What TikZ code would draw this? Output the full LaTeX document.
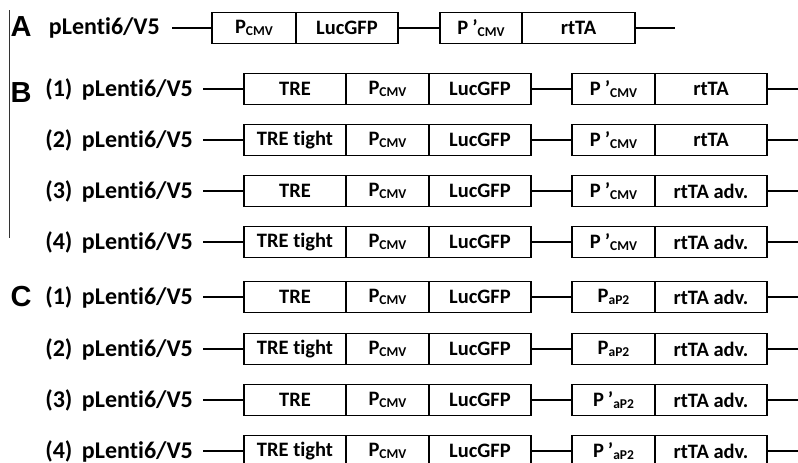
\documentclass[tikz,border=0pt]{standalone}
\usepackage{fontspec}
\setmainfont[Ligatures=NoCommon]{Carlito}
\newfontfamily\tagfont{Liberation Sans}
\usetikzlibrary{positioning}
\newcommand{\sub}[1]{\raisebox{-0.28ex}{\fontsize{13.5}{12}\selectfont\bfseries #1}}
\newcommand{\pcmv}{P\sub{CMV}}
\newcommand{\ppcmv}{P\hspace{0.2em}’\sub{CMV}}
\newcommand{\pap}{P\sub{aP2}}
\newcommand{\ppap}{P\hspace{0.2em}’\sub{aP2}}
\newcommand{\vname}[1]{(#1)\hspace{0.4em}pLenti6/V5}
\tikzset{
  % box segments of a cassette
  seg/.style={draw,line width=1.5pt,minimum height=31pt,inner sep=0pt,outer sep=0pt,anchor=west,font=\fontsize{20.5}{21}\selectfont\bfseries},
  lab/.style={anchor=east,inner sep=0pt,font=\fontsize{24}{24}\selectfont\bfseries},
  tag/.style={inner sep=0pt,font=\tagfont\fontsize{29}{29}\selectfont\bfseries},
  link/.style={line width=1.4pt}
}
\begin{document}
\begin{tikzpicture}[x=1pt,y=-1pt]
  \useasboundingbox (0,0) rectangle (798,463);
  \coordinate (barT) at (9.5,10);
  \coordinate (barB) at (9.5,238);
  \draw[line width=1pt,black!80] (barT) -- (barB);
  % A
  \node[tag] (tagA) at (21,27) {A};
  \node[lab] (labA) at (160,28) {pLenti6/V5};
  \node[seg,minimum width=84pt] (cmvA) at (212,28) {\pcmv};
  \node[seg,minimum width=102pt] (lucA) at (cmvA.east) {LucGFP};
  \node[seg,minimum width=82pt] (prA) at (440,28) {\ppcmv};
  \node[seg,minimum width=113pt] (rtA) at (prA.east) {rtTA};
  \coordinate (endA) at (675,28);
  \draw[link] ([xshift=12pt]labA.east) -- (cmvA.west);
  \draw[link] (lucA) -- (prA); \draw[link] (rtA) -- (endA);
  % B (1)
  \node[tag] (tagB) at (21,93) {B};
  \node[lab] (labB1) at (193,89) {\vname{1}};
  \node[seg,minimum width=102pt] (treB1) at (244,89) {TRE};
  \node[seg,minimum width=83pt] (cmvB1) at (treB1.east) {\pcmv};
  \node[seg,minimum width=102pt] (lucB1) at (cmvB1.east) {LucGFP};
  \node[seg,minimum width=83pt] (prB1) at (572,89) {\ppcmv};
  \node[seg,minimum width=112pt] (rtB1) at (prB1.east) {rtTA};
  \coordinate (endB1) at (800,89);
  \draw[link] ([xshift=10pt]labB1.east) -- (treB1.west);
  \draw[link] (lucB1) -- (prB1); \draw[link] (rtB1) -- (endB1);
  % B (2)
  \node[lab] (labB2) at (193,140) {\vname{2}};
  \node[seg,minimum width=102pt] (treB2) at (244,140) {TRE tight};
  \node[seg,minimum width=83pt] (cmvB2) at (treB2.east) {\pcmv};
  \node[seg,minimum width=102pt] (lucB2) at (cmvB2.east) {LucGFP};
  \node[seg,minimum width=83pt] (prB2) at (572,140) {\ppcmv};
  \node[seg,minimum width=112pt] (rtB2) at (prB2.east) {rtTA};
  \coordinate (endB2) at (800,140);
  \draw[link] ([xshift=10pt]labB2.east) -- (treB2.west);
  \draw[link] (lucB2) -- (prB2); \draw[link] (rtB2) -- (endB2);
  % B (3)
  \node[lab] (labB3) at (193,191) {\vname{3}};
  \node[seg,minimum width=102pt] (treB3) at (244,191) {TRE};
  \node[seg,minimum width=83pt] (cmvB3) at (treB3.east) {\pcmv};
  \node[seg,minimum width=102pt] (lucB3) at (cmvB3.east) {LucGFP};
  \node[seg,minimum width=83pt] (prB3) at (572,191) {\ppcmv};
  \node[seg,minimum width=112pt] (rtB3) at (prB3.east) {rtTA adv.};
  \coordinate (endB3) at (800,191);
  \draw[link] ([xshift=10pt]labB3.east) -- (treB3.west);
  \draw[link] (lucB3) -- (prB3); \draw[link] (rtB3) -- (endB3);
  % B (4)
  \node[lab] (labB4) at (193,242) {\vname{4}};
  \node[seg,minimum width=102pt] (treB4) at (244,242) {TRE tight};
  \node[seg,minimum width=83pt] (cmvB4) at (treB4.east) {\pcmv};
  \node[seg,minimum width=102pt] (lucB4) at (cmvB4.east) {LucGFP};
  \node[seg,minimum width=83pt] (prB4) at (572,242) {\ppcmv};
  \node[seg,minimum width=112pt] (rtB4) at (prB4.east) {rtTA adv.};
  \coordinate (endB4) at (800,242);
  \draw[link] ([xshift=10pt]labB4.east) -- (treB4.west);
  \draw[link] (lucB4) -- (prB4); \draw[link] (rtB4) -- (endB4);
  % C (1)
  \node[tag] (tagC) at (21,297) {C};
  \node[lab] (labC1) at (193,297) {\vname{1}};
  \node[seg,minimum width=102pt] (treC1) at (244,297) {TRE};
  \node[seg,minimum width=83pt] (cmvC1) at (treC1.east) {\pcmv};
  \node[seg,minimum width=102pt] (lucC1) at (cmvC1.east) {LucGFP};
  \node[seg,minimum width=83pt] (prC1) at (572,297) {\pap};
  \node[seg,minimum width=112pt] (rtC1) at (prC1.east) {rtTA adv.};
  \coordinate (endC1) at (800,297);
  \draw[link] ([xshift=10pt]labC1.east) -- (treC1.west);
  \draw[link] (lucC1) -- (prC1); \draw[link] (rtC1) -- (endC1);
  % C (2)
  \node[lab] (labC2) at (193,349) {\vname{2}};
  \node[seg,minimum width=102pt] (treC2) at (244,349) {TRE tight};
  \node[seg,minimum width=83pt] (cmvC2) at (treC2.east) {\pcmv};
  \node[seg,minimum width=102pt] (lucC2) at (cmvC2.east) {LucGFP};
  \node[seg,minimum width=83pt] (prC2) at (572,349) {\pap};
  \node[seg,minimum width=112pt] (rtC2) at (prC2.east) {rtTA adv.};
  \coordinate (endC2) at (800,349);
  \draw[link] ([xshift=10pt]labC2.east) -- (treC2.west);
  \draw[link] (lucC2) -- (prC2); \draw[link] (rtC2) -- (endC2);
  % C (3)
  \node[lab] (labC3) at (193,400) {\vname{3}};
  \node[seg,minimum width=102pt] (treC3) at (244,400) {TRE};
  \node[seg,minimum width=83pt] (cmvC3) at (treC3.east) {\pcmv};
  \node[seg,minimum width=102pt] (lucC3) at (cmvC3.east) {LucGFP};
  \node[seg,minimum width=83pt] (prC3) at (572,400) {\ppap};
  \node[seg,minimum width=112pt] (rtC3) at (prC3.east) {rtTA adv.};
  \coordinate (endC3) at (800,400);
  \draw[link] ([xshift=10pt]labC3.east) -- (treC3.west);
  \draw[link] (lucC3) -- (prC3); \draw[link] (rtC3) -- (endC3);
  % C (4)
  \node[lab] (labC4) at (193,451) {\vname{4}};
  \node[seg,minimum width=102pt] (treC4) at (244,451) {TRE tight};
  \node[seg,minimum width=83pt] (cmvC4) at (treC4.east) {\pcmv};
  \node[seg,minimum width=102pt] (lucC4) at (cmvC4.east) {LucGFP};
  \node[seg,minimum width=83pt] (prC4) at (572,451) {\ppap};
  \node[seg,minimum width=112pt] (rtC4) at (prC4.east) {rtTA adv.};
  \coordinate (endC4) at (800,451);
  \draw[link] ([xshift=10pt]labC4.east) -- (treC4.west);
  \draw[link] (lucC4) -- (prC4); \draw[link] (rtC4) -- (endC4);
\end{tikzpicture}
\end{document}
